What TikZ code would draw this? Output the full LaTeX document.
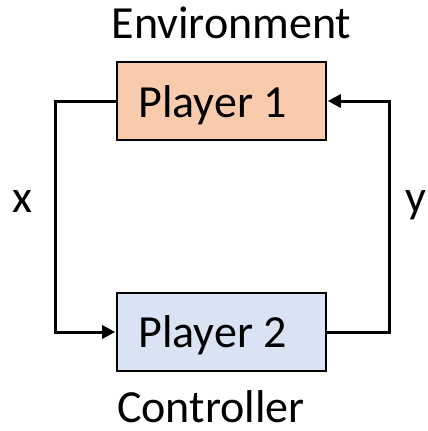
\documentclass[tikz,border=0pt]{standalone}
\usepackage{fontspec}
\setmainfont{Carlito}
\usetikzlibrary{arrows.meta}
\definecolor{envfill}{HTML}{F8CBAD}
\definecolor{ctrlfill}{HTML}{DAE3F3}
\tikzset{
  playerbox/.style={draw=black, line width=2.6pt, minimum width=209pt, minimum height=78pt, inner sep=0pt},
  lbl/.style={font=\fontsize{46}{50}\selectfont, inner sep=0pt, anchor=base},
  wire/.style={line width=3pt, -{Triangle[length=13pt,width=13pt]}, shorten >=0.5pt}
}
\begin{document}
\begin{tikzpicture}[x=1pt, y=-1pt]
  \useasboundingbox (0,0) rectangle (428,431);
  % the two players
  \node[playerbox, fill=envfill] (p1) at (221.5,101) {};
  \node[playerbox, fill=ctrlfill] (p2) at (221.5,332) {};
  \node[lbl] (p1txt) at (212.5,117) {Player 1};
  \node[lbl] (p2txt) at (212.5,347) {Player 2};
  % roles
  \node[lbl] (env) at (231.5,38) {Environment};
  \node[lbl] (ctrl) at (211,422) {Controller};
  % feedback loop
  \coordinate (lx) at (55,0);
  \coordinate (rx) at (389,0);
  \draw[wire] (p1.west) -- (p1.west -| lx) -- (p2.west -| lx) -- (p2.west);
  \draw[wire] (p2.east) -- (p2.east -| rx) -- (p1.east -| rx) -- (p1.east);
  % signal labels
  \node[lbl] (xl) at (22.5,212) {x};
  \node[lbl] (yl) at (416,212) {y};
\end{tikzpicture}
\end{document}
